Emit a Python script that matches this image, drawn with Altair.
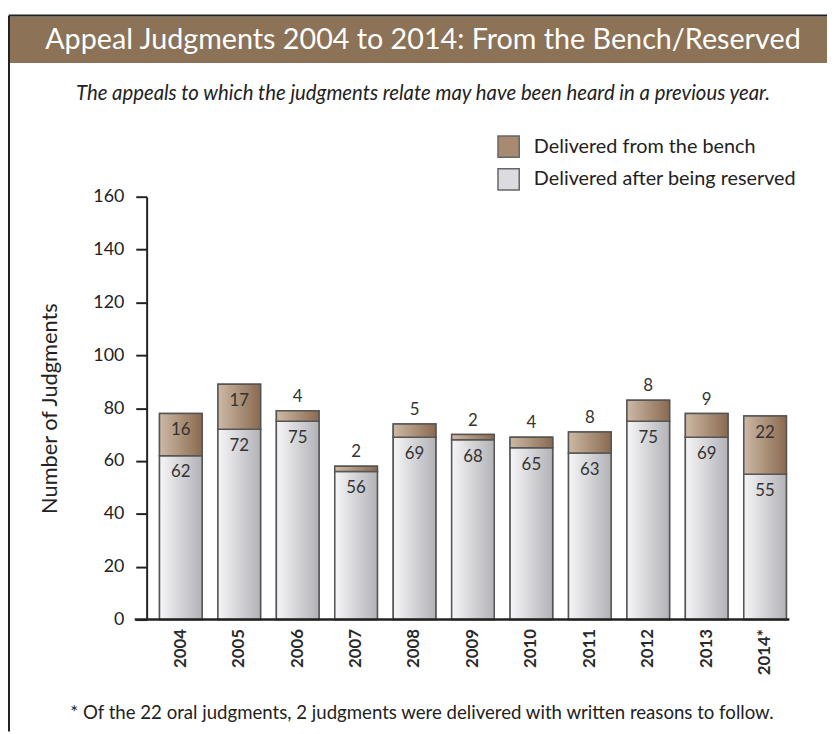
import altair as alt
import pandas as pd

years = ["2004", "2005", "2006", "2007", "2008", "2009", "2010", "2011", "2012", "2013", "2014*"]
reserved = [62, 72, 75, 56, 69, 68, 65, 63, 75, 69, 55]
bench = [16, 17, 4, 2, 5, 2, 4, 8, 8, 9, 22]

series_names = ["Delivered from the bench", "Delivered after being reserved"]
title_text = "Appeal Judgments 2004 to 2014: From the Bench/Reserved"
subtitle_text = "The appeals to which the judgments relate may have been heard in a previous year."
footnote_text = "* Of the 22 oral judgments, 2 judgments were delivered with written reasons to follow."

FONT = "Lato"
W, H = 649, 427

df = pd.DataFrame({"year": years, "reserved": reserved, "bench": bench})
df["total"] = df["reserved"] + df["bench"]
df["bench_inside"] = df["bench"] >= 10

long = pd.concat([
    pd.DataFrame({"year": years, "series": series_names[1], "y0": 0, "y1": reserved}),
    pd.DataFrame({"year": years, "series": series_names[0], "y0": reserved, "y1": list(df["total"])}),
])

xscale = alt.Scale(range=[13, 646], paddingInner=0.271, paddingOuter=0)
xs = alt.X("year:N", sort=years, scale=xscale,
           axis=alt.Axis(title=None, labelAngle=-90, labelFontSize=17, labelFont=FONT,
                         labelFontWeight="bold", labelColor="#2a2a2a", ticks=False,
                         domain=False, labelPadding=9))
ys = alt.Y("y1:Q", scale=alt.Scale(domain=[0, 160], nice=False),
           axis=alt.Axis(title="Number of Judgments", values=list(range(0, 161, 20)),
                         titleFontSize=22, titleFont=FONT, titleFontWeight="normal",
                         titleColor="#222", titlePadding=32,
                         labelFontSize=18, labelFont=FONT, labelColor="#222",
                         labelPadding=12, tickSize=11, tickColor="#222", tickWidth=2,
                         domainColor="#222", domainWidth=2, grid=False))

base = alt.Chart(long)

legend_bars = base.mark_bar(stroke="#555", strokeWidth=1.5).encode(
    x=xs, y=ys, y2="y0:Q",
    color=alt.Color("series:N", sort=series_names,
                    scale=alt.Scale(domain=series_names, range=["#a88a70", "#dcdce0"]),
                    legend=alt.Legend(title=None, orient="none", legendX=354, legendY=-62,
                                      symbolType="square", symbolSize=460,
                                      symbolStrokeColor="#666", symbolStrokeWidth=1.5,
                                      labelFontSize=20, labelFont=FONT, labelColor="#222",
                                      labelOffset=14, rowPadding=4, labelLimit=400,
                                      symbolOpacity=1)),
)

grad_res = alt.LinearGradient(gradient="linear", x1=0, x2=1, y1=0, y2=0,
                              stops=[alt.GradientStop(offset=0, color="#f6f6f8"),
                                     alt.GradientStop(offset=1, color="#b2b2b7")])
grad_bench = alt.LinearGradient(gradient="linear", x1=0, x2=1, y1=0, y2=0,
                                stops=[alt.GradientStop(offset=0, color="#cdb9a5"),
                                       alt.GradientStop(offset=1, color="#8a6a50")])

res_bars = base.transform_filter(alt.datum.series == series_names[1]).mark_bar(
    fill=grad_res, stroke="#555", strokeWidth=1.5).encode(x=xs, y=ys, y2="y0:Q")
bench_bars = base.transform_filter(alt.datum.series == series_names[0]).mark_bar(
    fill=grad_bench, stroke="#555", strokeWidth=1.5).encode(x=xs, y=ys, y2="y0:Q")

xl = alt.X("year:N", sort=years)
lab = alt.Chart(df)
res_labels = lab.mark_text(fontSize=17, font=FONT, color="#333", dy=17).encode(
    x=xl, y=alt.Y("reserved:Q"), text="reserved:Q")
bench_in = lab.transform_filter(alt.datum.bench_inside).mark_text(
    fontSize=17, font=FONT, color="#333", dy=17).encode(
    x=xl, y=alt.Y("total:Q"), text="bench:Q")
bench_out = lab.transform_filter(~alt.datum.bench_inside).mark_text(
    fontSize=17, font=FONT, color="#333", dy=-14).encode(
    x=xl, y=alt.Y("total:Q"), text="bench:Q")

deco = alt.Chart(pd.DataFrame({"t": [title_text]}))
band = deco.mark_rect(color="#8c7257").encode(
    x=alt.value(-138), x2=alt.value(690), y=alt.value(-182), y2=alt.value(-135))
top_line = deco.mark_rule(color="#222", strokeWidth=2).encode(
    x=alt.value(-139), x2=alt.value(690), y=alt.value(-183))
left_line = deco.mark_rule(color="#222", strokeWidth=2).encode(
    x=alt.value(-139), y=alt.value(-183), y2=alt.value(540))
x_axis_line = deco.mark_rule(color="#222", strokeWidth=2.5).encode(
    x=alt.value(-12), x2=alt.value(649), y=alt.value(H))
title = deco.mark_text(fontSize=29, font=FONT, color="white", baseline="middle").encode(
    x=alt.value(279), y=alt.value(-158), text=alt.value(title_text))
subtitle = deco.mark_text(fontSize=20.5, font=FONT, fontStyle="italic", color="#222",
                          baseline="middle").encode(
    x=alt.value(279), y=alt.value(-104), text=alt.value(subtitle_text))
footnote = deco.mark_text(fontSize=18.8, font=FONT, color="#222", baseline="middle").encode(
    x=alt.value(278), y=alt.value(521), text=alt.value(footnote_text))

chart = alt.layer(
    band, top_line, left_line, title, subtitle, footnote,
    legend_bars, res_bars, bench_bars, x_axis_line, res_labels, bench_in, bench_out
).properties(
    width=W, height=H,
    autosize=alt.AutoSizeParams(type="none"),
    padding={"left": 140, "top": 187, "right": 38, "bottom": 112},
    view=alt.ViewBackground(stroke="transparent", strokeWidth=0),
).configure_view(stroke="transparent", strokeWidth=0).configure(background="white")

chart.save("out.html", embed_options={"renderer": "svg", "actions": False})
